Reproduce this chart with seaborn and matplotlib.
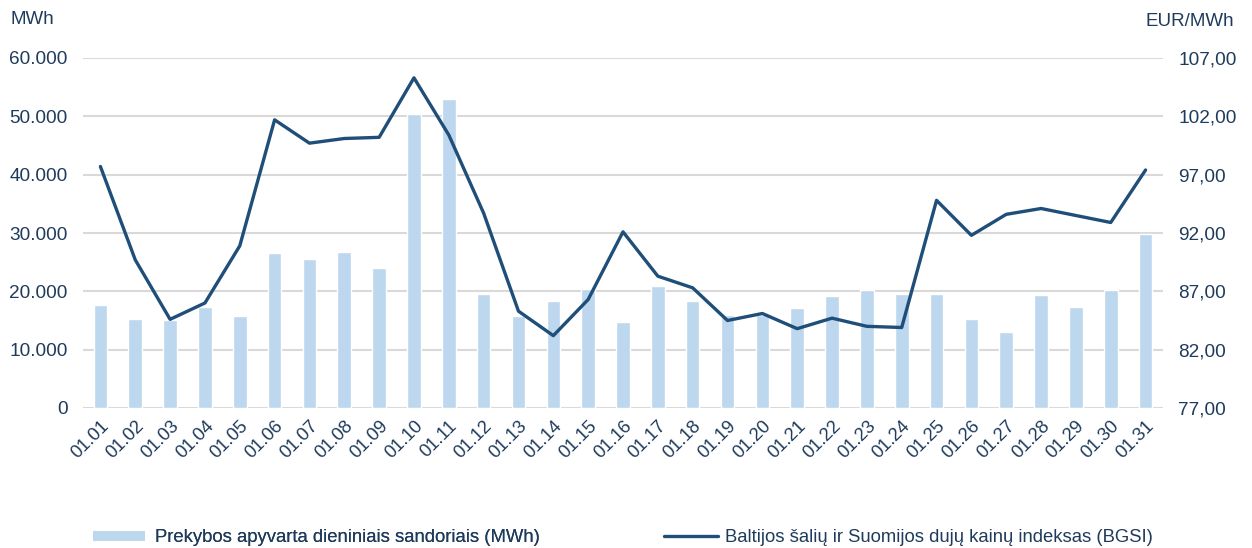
import matplotlib
matplotlib.use("Agg")
import matplotlib.pyplot as plt
import seaborn as sns
import numpy as np
import pandas as pd
from matplotlib.patches import Patch
from matplotlib.lines import Line2D
from matplotlib.ticker import FuncFormatter

dates = [f"01.{d:02d}" for d in range(1, 32)]
volume = [17600, 15200, 15100, 17300, 15800, 26600, 25600, 26700, 24000, 50400,
          52900, 19500, 15800, 18300, 20400, 14700, 21000, 18300, 15900, 15900,
          17100, 19200, 20300, 19500, 19500, 15200, 13000, 19400, 17300, 20300, 29900]
price = [97.7, 89.7, 84.6, 86.0, 90.9, 101.7, 99.7, 100.1, 100.2, 105.3,
         100.4, 93.7, 85.3, 83.2, 86.3, 92.1, 88.3, 87.3, 84.5, 85.1,
         83.8, 84.7, 84.0, 83.9, 94.8, 91.8, 93.6, 94.1, 93.5, 92.9, 97.4]
left_ticks = [0, 10000, 20000, 30000, 40000, 50000, 60000]
right_ticks = [77, 82, 87, 92, 97, 102, 107]
bar_label = "Prekybos apyvarta dieniniais sandoriais (MWh)"
line_label = "Baltijos šalių ir Suomijos dujų kainų indeksas (BGSI)"

df = pd.DataFrame({"date": dates, "volume": volume, "price": price})

sns.set_theme(style="white")
plt.rcParams['font.family'] = ['Liberation Sans', 'DejaVu Sans']
txt = "#1F3B5C"
bar_c = "#BDD7EE"
line_c = "#1F4E79"

fig = plt.figure(figsize=(12.52, 5.48), dpi=100)
ax = fig.add_axes([83/1252, 1-408/548, (1163-83)/1252, 350/548])
sns.barplot(data=df, x="date", y="volume", color=bar_c, width=0.39,
            saturation=1, ax=ax, zorder=2)
ax.set_ylim(0, 60000)
ax.set_xlim(-0.5, len(dates)-0.5)
ax.set_yticks(left_ticks)
ax.yaxis.set_major_formatter(FuncFormatter(lambda v, p: f"{int(v):,}".replace(",", ".")))
ax.grid(axis="y", color="#D9D9D9", linewidth=1.5, zorder=0)
ax.set_axisbelow(True)
for s in ax.spines.values():
    s.set_visible(False)
ax.set_xlabel("")
ax.set_ylabel("")
ax.tick_params(axis="y", length=0, pad=11, labelsize=13.7, labelcolor=txt)
ax.tick_params(axis="x", length=0, pad=7, labelsize=13.2, labelcolor=txt)
for lab in ax.get_xticklabels():
    lab.set_rotation(45)
    lab.set_ha("right")
    lab.set_rotation_mode("anchor")

ax2 = ax.twinx()
sns.pointplot(data=df, x="date", y="price", color=line_c, marker="",
              linewidth=2.4, ax=ax2, errorbar=None)
ax2.set_ylim(77, 107)
ax2.set_xlim(-0.5, len(dates)-0.5)
ax2.set_yticks(right_ticks)
ax2.yaxis.set_major_formatter(FuncFormatter(lambda v, p: f"{v:.2f}".replace(".", ",")))
ax2.tick_params(axis="y", length=0, pad=11, labelsize=13.7, labelcolor=txt)
ax2.set_ylabel("")
ax2.set_xlabel("")
for s in ax2.spines.values():
    s.set_visible(False)
ax2.grid(False)

fig.text(10/1252, 1-20/548, "MWh", fontsize=13.5, color=txt, va="center", ha="left")
fig.text(1234/1252, 1-22/548, "EUR/MWh", fontsize=13.5, color=txt, va="center", ha="right")

leg1 = fig.legend(handles=[Patch(facecolor=bar_c, edgecolor="none", label=bar_label)],
                  loc="center left", bbox_to_anchor=(93/1252, 1-538/548), frameon=False,
                  fontsize=13.3, handlelength=2.8, handleheight=0.43, handletextpad=0.55,
                  borderpad=0, borderaxespad=0, labelcolor=txt)
fig.legend(handles=[Line2D([0], [0], color=line_c, linewidth=2.4, label=line_label)],
           loc="center left", bbox_to_anchor=(664/1252, 1-538/548), frameon=False,
           fontsize=13.3, handlelength=2.9, handletextpad=0.38,
           borderpad=0, borderaxespad=0, labelcolor=txt)
fig.add_artist(leg1)

fig.savefig("out.png", dpi=100)
